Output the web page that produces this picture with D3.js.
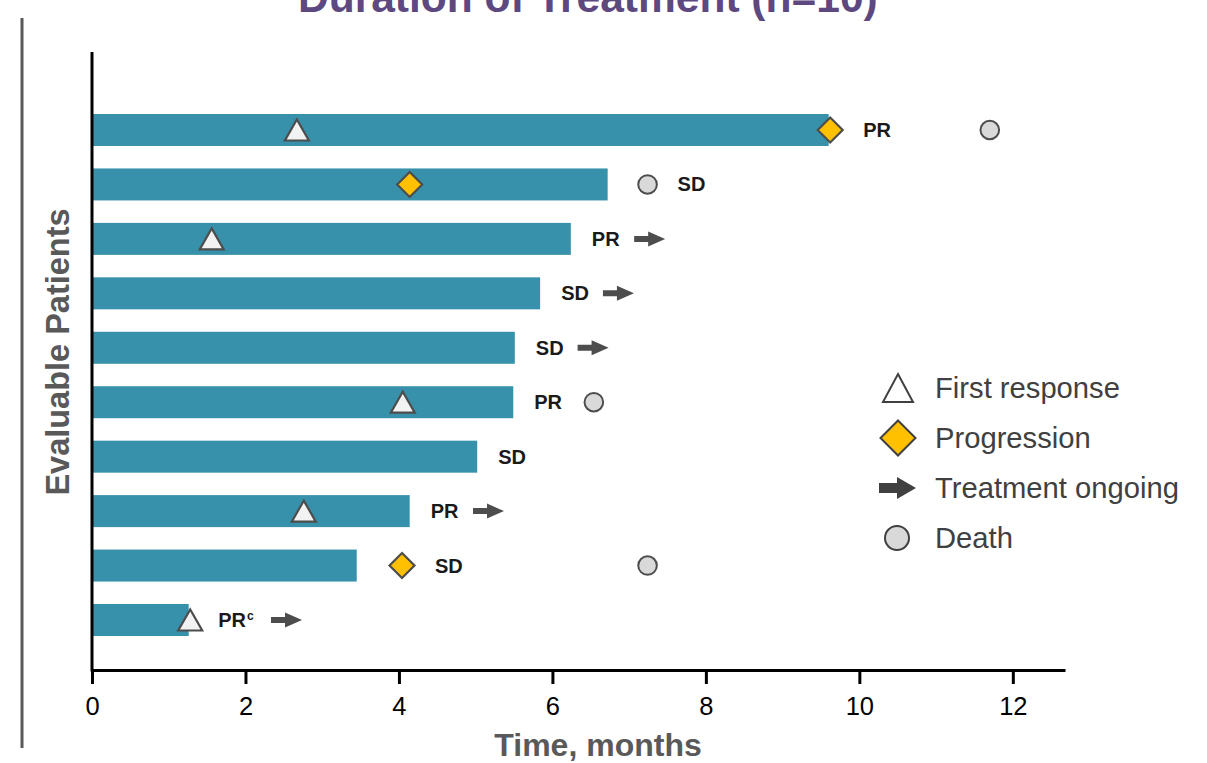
<!DOCTYPE html>
<html>
<head>
<meta charset="utf-8">
<script src="https://cdn.jsdelivr.net/npm/d3@7"></script>
<style>
  html, body { margin: 0; padding: 0; background: #ffffff; }
  svg { display: block; font-family: "Liberation Sans", Arial, sans-serif; }
</style>
</head>
<body>
<svg id="chart" width="1207" height="763"></svg>
<script>
// Swimmer plot: duration of treatment per evaluable patient (months)
const patients      = [1, 2, 3, 4, 5, 6, 7, 8, 9, 10];
const durations     = [9.60, 6.72, 6.24, 5.84, 5.51, 5.49, 5.02, 4.14, 3.45, 1.26];
const bestResponse  = ["PR", "SD", "PR", "SD", "SD", "PR", "SD", "PR", "SD", "PR"];
const responseNotes = ["", "", "", "", "", "", "", "", "", "c"];
const firstResponse = [2.67, null, 1.56, null, null, 4.05, null, 2.76, null, 1.28];
const progression   = [9.62, 4.14, null, null, null, null, null, null, 4.04, null];
const death         = [11.70, 7.24, null, null, null, 6.54, null, null, 7.24, null];
const ongoing       = [false, false, true, true, true, false, false, true, false, true];
const xTicks        = [0, 2, 4, 6, 8, 10, 12];
const legendItems   = ["First response", "Progression", "Treatment ongoing", "Death"];

const rows = patients.map((p, i) => ({
  id: p, dur: durations[i], resp: bestResponse[i], note: responseNotes[i],
  fr: firstResponse[i], prog: progression[i], death: death[i], ongoing: ongoing[i]
}));

const svg = d3.select("#chart");
const BAR = "#3791AB", EDGE = "#4d4d4d", GOLD = "#FFC000";

const x = d3.scaleLinear().domain([0, 12.68]).range([92, 1065]);
const y = d3.scalePoint().domain(patients).range([130, 620]);
const barH = 32;

// Side rule
svg.append("line").attr("x1", 22).attr("x2", 22).attr("y1", 18).attr("y2", 748)
  .attr("stroke", "#595959").attr("stroke-width", 3);

// Title (partly above the top edge)
const title = svg.append("text").attr("x", 596).attr("y", 12).attr("text-anchor", "middle")
  .attr("font-size", 42.5).attr("font-weight", "bold").attr("fill", "#5E4880");
title.append("tspan").text("Duration of Treatment (n=10)");
title.append("tspan").attr("dy", -13).attr("dx", 4).attr("font-size", 22).text("a");

// Bars
svg.append("g").selectAll("rect").data(rows).join("rect")
  .attr("x", x(0)).attr("y", d => y(d.id) - barH / 2)
  .attr("width", d => x(d.dur) - x(0)).attr("height", barH)
  .attr("fill", BAR);

// Axes
const xAxis = svg.append("g").attr("transform", "translate(0,670)")
  .call(d3.axisBottom(x).tickValues(xTicks).tickSize(14).tickSizeOuter(0));
xAxis.select(".domain").attr("stroke", "#000").attr("stroke-width", 3);
xAxis.selectAll(".tick line").attr("stroke", "#000").attr("stroke-width", 3);
xAxis.selectAll(".tick text").attr("y", 45).attr("dy", null)
  .attr("font-size", 25.5).attr("fill", "#000")
  .attr("font-family", "'Liberation Sans', Arial, sans-serif");

svg.append("line").attr("x1", x(0)).attr("x2", x(0)).attr("y1", 52).attr("y2", 671.5)
  .attr("stroke", "#000").attr("stroke-width", 3);

svg.append("text").attr("x", 598).attr("y", 756).attr("text-anchor", "middle")
  .attr("font-size", 32).attr("font-weight", "bold").attr("fill", "#595959")
  .text("Time, months");
svg.append("text").attr("transform", "translate(69,352) rotate(-90)").attr("text-anchor", "middle")
  .attr("font-size", 32.5).attr("font-weight", "bold").attr("fill", "#595959")
  .text("Evaluable Patients");

// Marker shapes
const triPath = (w, h) => `M0,${-h / 2}L${w / 2},${h / 2}L${-w / 2},${h / 2}Z`;
const diaPath = s => `M0,${-s}L${s},0L0,${s}L${-s},0Z`;
const arrowPath = (len, shaftH, headLen, headH) =>
  `M0,${-shaftH / 2}L${len - headLen},${-shaftH / 2}L${len - headLen},${-headH / 2}` +
  `L${len},0L${len - headLen},${headH / 2}L${len - headLen},${shaftH / 2}L0,${shaftH / 2}Z`;

const marks = svg.append("g");
marks.selectAll("path.tri").data(rows.filter(d => d.fr != null)).join("path")
  .attr("class", "tri").attr("d", triPath(24, 21))
  .attr("transform", d => `translate(${x(d.fr)},${y(d.id)})`)
  .attr("fill", "#f2f2f2").attr("stroke", EDGE).attr("stroke-width", 2.2);
marks.selectAll("path.dia").data(rows.filter(d => d.prog != null)).join("path")
  .attr("class", "dia").attr("d", diaPath(12.5))
  .attr("transform", d => `translate(${x(d.prog)},${y(d.id)})`)
  .attr("fill", GOLD).attr("stroke", EDGE).attr("stroke-width", 2.2);
marks.selectAll("circle").data(rows.filter(d => d.death != null)).join("circle")
  .attr("cx", d => x(d.death)).attr("cy", d => y(d.id)).attr("r", 9.3)
  .attr("fill", "#d9d9d9").attr("stroke", EDGE).attr("stroke-width", 2);

// Response labels sit past the bar end, or past an event marker just beyond it
const gapAfter = { fr: 28, prog: 33, death: 30 };
rows.forEach(d => {
  let lx = x(d.dur) + 21;
  ["fr", "prog", "death"].forEach(k => {
    const v = d[k];
    if (v != null && v >= d.dur - 0.2 && v <= d.dur + 1.0) lx = Math.max(lx, x(v) + gapAfter[k]);
  });
  const t = svg.append("text").attr("x", lx).attr("y", y(d.id) + 7)
    .attr("font-size", 20).attr("font-weight", "bold").attr("fill", "#1a1a1a");
  t.append("tspan").text(d.resp);
  if (d.note) t.append("tspan").attr("dy", -7).attr("dx", 1).attr("font-size", 12).text(d.note);
  if (d.ongoing) {
    const end = t.node().getBBox();
    svg.append("path").attr("d", arrowPath(31, 6, 17, 15))
      .attr("transform", `translate(${end.x + end.width + (d.note ? 17 : 14)},${y(d.id)})`)
      .attr("fill", EDGE);
  }
});

// Legend
const lg = svg.append("g");
const lgY = [388, 438, 488, 538];
lg.append("path").attr("d", triPath(30, 28)).attr("transform", `translate(898,${lgY[0]})`)
  .attr("fill", "#ffffff").attr("stroke", "#404040").attr("stroke-width", 2);
lg.append("path").attr("d", diaPath(17.5)).attr("transform", `translate(898,${lgY[1]})`)
  .attr("fill", GOLD).attr("stroke", "#404040").attr("stroke-width", 2);
lg.append("path").attr("d", arrowPath(37, 10, 19, 22)).attr("transform", `translate(879,${lgY[2]})`)
  .attr("fill", "#404040");
lg.append("circle").attr("cx", 897).attr("cy", lgY[3]).attr("r", 12)
  .attr("fill", "#d9d9d9").attr("stroke", "#404040").attr("stroke-width", 2);
lg.selectAll("text").data(legendItems).join("text")
  .attr("x", 935).attr("y", (d, i) => lgY[i] + 10)
  .attr("font-size", 29.2).attr("fill", "#404040").text(d => d);
</script>
</body>
</html>
